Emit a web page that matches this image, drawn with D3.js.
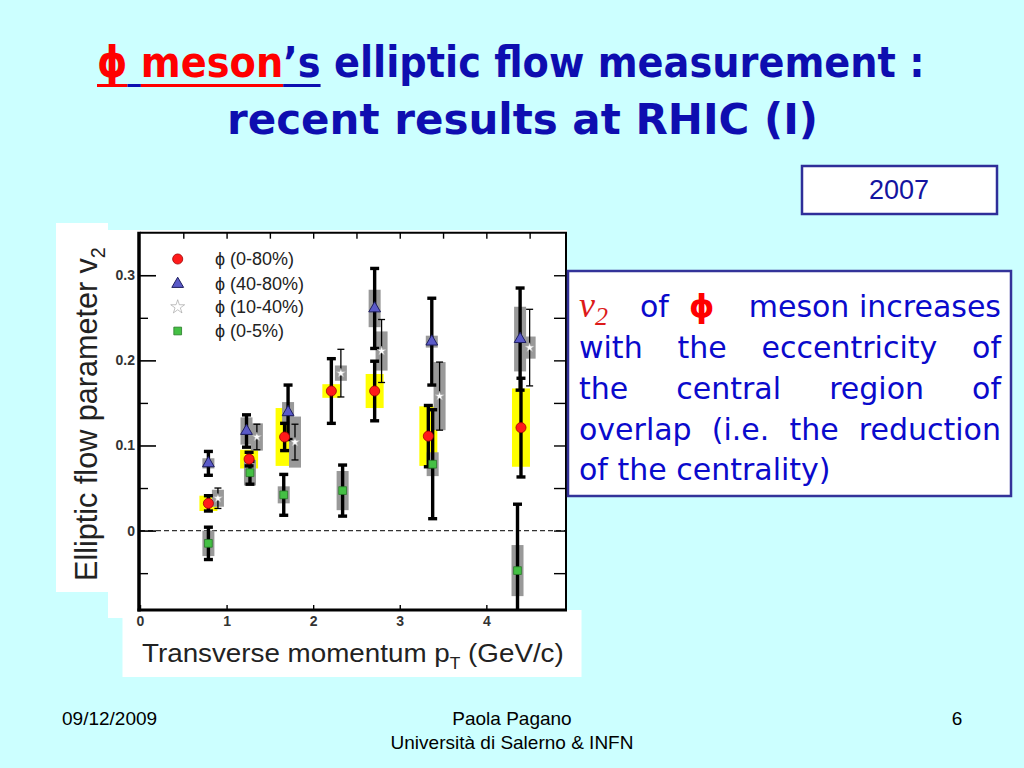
<!DOCTYPE html>
<html><head><meta charset="utf-8">
<script src="https://cdn.jsdelivr.net/npm/d3@7"></script>
<style>html,body{margin:0;padding:0;background:#ccffff;} svg{display:block;}</style>
</head><body>
<svg id="s" width="1024" height="768"></svg>
<script>
// ---------------- DATA ----------------
// phi (0-80%) red circles
const redPt   = [0.79, 1.26, 1.67, 2.21, 2.71, 3.33, 4.40];
const redV2   = [0.032, 0.084, 0.110, 0.164, 0.164, 0.111, 0.121];
const redStat = [0.009, 0.008, 0.016, 0.038, 0.035, 0.036, 0.058];
const redSys  = [0.009, 0.011, 0.034, 0.008, 0.020, 0.035, 0.046];
// phi (40-80%) blue triangles
const triPt   = [0.79, 1.23, 1.71, 2.71, 3.37, 4.39];
const triV2   = [0.079, 0.117, 0.139, 0.261, 0.222, 0.225];
const triStat = [0.014, 0.019, 0.032, 0.047, 0.051, 0.060];
const triSys  = [0.006, 0.016, 0.012, 0.022, 0.007, 0.038];
// phi (10-40%) white stars
const starPt   = [0.90, 1.35, 1.79, 2.32, 2.79, 3.46, 4.50];
const starV2   = [0.038, 0.110, 0.104, 0.185, 0.211, 0.158, 0.215];
const starStat = [0.012, 0.015, 0.021, 0.028, 0.037, 0.040, 0.045];
const starSys  = [0.010, 0.016, 0.030, 0.009, 0.023, 0.040, 0.013];
// phi (0-5%) green squares
const sqPt   = [0.79, 1.27, 1.66, 2.34, 3.38, 4.36];
const sqV2   = [-0.015, 0.068, 0.042, 0.047, 0.078, -0.047];
const sqStat = [0.019, 0.0135, 0.024, 0.030, 0.064, 0.078];
const sqSys  = [0.015, 0.015, 0.010, 0.023, 0.014, 0.030];

const legendLabels = ["ϕ (0-80%)", "ϕ (40-80%)", "ϕ (10-40%)", "ϕ (0-5%)"];
const yMajorTicks = [0, 0.1, 0.2, 0.3];
const yMinorTicks = [-0.05, 0.05, 0.15, 0.25];
const yRightTicks = [-0.05, 0, 0.05, 0.1, 0.15, 0.2, 0.25, 0.3];
const xTicks = [0, 1, 2, 3, 4];
const xTopTicks = [0.5, 1, 1.5, 2, 2.5, 3, 3.5, 4, 4.5];

// ---------------- SETUP ----------------
const W = 1024, H = 768;
const svg = d3.select("#s");
svg.append("rect").attr("width", W).attr("height", H).attr("fill", "#ccffff");

const SANS = "'Liberation Sans', Arial, Helvetica, sans-serif";
const COMIC = "'DejaVu Sans', sans-serif";

// white image panels
svg.append("rect").attr("x", 108).attr("y", 230).attr("width", 459).attr("height", 388).attr("fill", "#fff");
svg.append("rect").attr("x", 56).attr("y", 223).attr("width", 52).attr("height", 369).attr("fill", "#fff");
svg.append("rect").attr("x", 122.5).attr("y", 610).attr("width", 459).attr("height", 67).attr("fill", "#fff");

const x = d3.scaleLinear().domain([0, 4.92]).range([140, 566]);
const y = d3.scaleLinear().domain([-0.0933, 0.35]).range([610, 232.7]);

// clip
svg.append("defs").append("clipPath").attr("id", "clip")
  .append("rect").attr("x", x(0)).attr("y", y(0.35)).attr("width", x(4.92) - x(0)).attr("height", y(-0.0933) - y(0.35));

// zero dashed line
svg.append("line").attr("x1", x(0)).attr("x2", x(4.92)).attr("y1", y(0)).attr("y2", y(0))
  .attr("stroke", "#333").attr("stroke-width", 1.1).attr("stroke-dasharray", "5,3");

// ---------------- SERIES ----------------
const series = [
  {pt: redPt, v: redV2, stat: redStat, sys: redSys, box: "#ffff00", boxW: 18, thick: true, marker: "circle"},
  {pt: triPt, v: triV2, stat: triStat, sys: triSys, box: "#999999", boxW: 12, thick: true, marker: "triangle"},
  {pt: starPt, v: starV2, stat: starStat, sys: starSys, box: "#999999", boxW: 12, thick: false, marker: "star"},
  {pt: sqPt, v: sqV2, stat: sqStat, sys: sqSys, box: "#999999", boxW: 12, thick: true, marker: "square"}
];
series.forEach(s => { s.data = s.pt.map((p, i) => ({p, v: s.v[i], e: s.stat[i], sy: s.sys[i]})); });

const plot = svg.append("g").attr("clip-path", "url(#clip)");

// systematic boxes
series.forEach(s => {
  plot.append("g").selectAll("rect").data(s.data).join("rect")
    .attr("x", d => x(d.p) - s.boxW / 2).attr("width", s.boxW)
    .attr("y", d => y(d.v + d.sy)).attr("height", d => y(d.v - d.sy) - y(d.v + d.sy))
    .attr("fill", s.box);
});

// error bars
series.forEach(s => {
  const sw = s.thick ? 3.4 : 1.3, cw = s.thick ? 9 : 7;
  const g = plot.append("g").attr("stroke", "#000").attr("stroke-width", sw);
  g.selectAll("line.v").data(s.data).join("line").attr("class", "v")
    .attr("x1", d => x(d.p)).attr("x2", d => x(d.p))
    .attr("y1", d => y(d.v + d.e)).attr("y2", d => y(d.v - d.e));
  g.selectAll("line.t").data(s.data).join("line").attr("class", "t")
    .attr("x1", d => x(d.p) - cw / 2).attr("x2", d => x(d.p) + cw / 2)
    .attr("y1", d => y(d.v + d.e)).attr("y2", d => y(d.v + d.e));
  g.selectAll("line.b").data(s.data).join("line").attr("class", "b")
    .attr("x1", d => x(d.p) - cw / 2).attr("x2", d => x(d.p) + cw / 2)
    .attr("y1", d => y(d.v - d.e)).attr("y2", d => y(d.v - d.e));
});

const markerStyle = {
  circle:   {sym: d3.symbolCircle, size: 80, fill: "#ff1a1a", stroke: "#a00000", sw: 0.8},
  triangle: {sym: d3.symbolTriangle, size: 60, fill: "#5a5ac8", stroke: "#1e1e60", sw: 1},
  star:     {sym: d3.symbolStar, size: 26, fill: "#ffffff", stroke: "#b0b0b0", sw: 0.6},
  square:   {sym: d3.symbolSquare, size: 60, fill: "#44c044", stroke: "#2a7a2a", sw: 0.8}
};

series.forEach(s => {
  const m = markerStyle[s.marker];
  plot.append("g").selectAll("path").data(s.data).join("path")
    .attr("transform", d => `translate(${x(d.p)},${y(d.v)})`)
    .attr("d", d3.symbol(m.sym, m.size))
    .attr("fill", m.fill).attr("stroke", m.stroke).attr("stroke-width", m.sw);
});

// ---------------- AXES ----------------
function styleAxis(g, sw) {
  g.select(".domain").remove();
  g.selectAll(".tick line").attr("stroke", "#000").attr("stroke-width", sw);
  g.selectAll(".tick text").attr("font-family", SANS).attr("font-size", 14).attr("font-weight", "bold").attr("fill", "#333");
}
svg.append("g").attr("transform", `translate(${x(0)},0)`)
  .call(d3.axisLeft(y).tickValues(yMajorTicks).tickSize(-16).tickPadding(5).tickFormat(d => d === 0 ? "0" : d.toFixed(1)))
  .call(g => styleAxis(g, 1.6));
svg.append("g").attr("transform", `translate(${x(0)},0)`)
  .call(d3.axisLeft(y).tickValues(yMinorTicks).tickSize(-8).tickFormat(""))
  .call(g => styleAxis(g, 1.4));
svg.append("g").attr("transform", `translate(${x(4.92)},0)`)
  .call(d3.axisRight(y).tickValues(yRightTicks).tickSize(-12).tickFormat(""))
  .call(g => styleAxis(g, 1.4));
svg.append("g").attr("transform", `translate(0,${y(0.35)})`)
  .call(d3.axisTop(x).tickValues(xTopTicks).tickSize(-6).tickFormat(""))
  .call(g => styleAxis(g, 1.4));
svg.append("g").attr("transform", `translate(0,${y(-0.0933)})`)
  .call(d3.axisBottom(x).tickValues(xTicks).tickSize(-5).tickPadding(6).tickFormat(d3.format("d")))
  .call(g => styleAxis(g, 1.4));

// frame
const fr = svg.append("g").attr("stroke", "#000");
fr.append("line").attr("x1", x(0) - 1).attr("x2", x(0) - 1).attr("y1", y(0.35) - 1).attr("y2", y(-0.0933) + 1.5).attr("stroke-width", 3.5);
fr.append("line").attr("x1", x(0) - 2.5).attr("x2", x(4.92) + 1).attr("y1", y(-0.0933)).attr("y2", y(-0.0933)).attr("stroke-width", 3);
fr.append("line").attr("x1", x(0)).attr("x2", x(4.92) + 1).attr("y1", y(0.35)).attr("y2", y(0.35)).attr("stroke-width", 2);
fr.append("line").attr("x1", x(4.92)).attr("x2", x(4.92)).attr("y1", y(0.35)).attr("y2", y(-0.0933)).attr("stroke-width", 2);

// ---------------- LEGEND ----------------
const legMarkers = ["circle", "triangle", "star", "square"];
const legY = [259, 284, 307, 331];
const leg = svg.append("g");
legMarkers.forEach((mk, i) => {
  const m = markerStyle[mk];
  const size = mk === "star" ? 60 : m.size;
  leg.append("path").attr("transform", `translate(177.7,${legY[i]})`)
    .attr("d", d3.symbol(m.sym, size)).attr("fill", m.fill)
    .attr("stroke", mk === "star" ? "#999" : m.stroke).attr("stroke-width", m.sw);
  leg.append("text").attr("x", 215).attr("y", legY[i]).attr("dy", "0.36em")
    .attr("font-family", SANS).attr("font-size", 18).attr("fill", "#222").text(legendLabels[i]);
});

// ---------------- AXIS TITLES ----------------
function fitGroup(parent, build, tx, ty, rot, targetW) {
  const g = parent.append("g");
  const inner = g.append("g");
  const t = build(inner);
  const bb = inner.node().getBBox();
  const s = targetW / bb.width;
  g.attr("transform", `translate(${tx},${ty}) rotate(${rot})`);
  inner.attr("transform", `scale(${s},1) translate(${-bb.x},0)`);
  return {g: inner, s, bb, t};
}

fitGroup(svg, g => {
  const t = g.append("text").attr("font-family", SANS).attr("font-size", 31).attr("fill", "#222");
  t.append("tspan").text("Elliptic flow parameter v");
  t.append("tspan").attr("font-size", 20).attr("dy", 8).text("2");
  return t;
}, 97, 581, -90, 334);

fitGroup(svg, g => {
  const t = g.append("text").attr("font-family", SANS).attr("font-size", 25.5).attr("fill", "#222");
  t.append("tspan").text("Transverse momentum p");
  t.append("tspan").attr("font-size", 16).attr("dy", 7).text("T");
  t.append("tspan").attr("dy", -7).text(" (GeV/c)");
  return t;
}, 142, 662, 0, 422);

// ---------------- TITLE ----------------
const BLUE_T = "#0e0eb0", RED = "#ff0000";
const title1 = fitGroup(svg, g => {
  const t = g.append("text").attr("font-family", COMIC).attr("font-weight", "bold").attr("font-size", 42);
  t.append("tspan").attr("fill", RED).text("ϕ");
  t.append("tspan").attr("fill", BLUE_T).text(" ");
  t.append("tspan").attr("fill", RED).text("meson");
  t.append("tspan").attr("fill", BLUE_T).text("’s");
  t.append("tspan").attr("fill", BLUE_T).text(" elliptic flow measurement :");
  return t;
}, 97, 77, 0, 828);
{
  const node = title1.t.node();
  const segs = [[0, 1, RED], [1, 1, BLUE_T], [2, 5, RED], [7, 2, BLUE_T]];
  segs.forEach(([st, n, c]) => {
    const x0 = node.getStartPositionOfChar(st).x;
    const w = node.getSubStringLength(st, n);
    title1.g.append("rect").attr("x", x0).attr("y", 7).attr("width", w).attr("height", 3).attr("fill", c);
  });
}
fitGroup(svg, g => {
  return g.append("text").attr("font-family", COMIC).attr("font-weight", "bold").attr("font-size", 42)
    .attr("fill", BLUE_T).text("recent results at RHIC (I)");
}, 227, 134, 0, 591);

// ---------------- 2007 BOX ----------------
svg.append("rect").attr("x", 802).attr("y", 166).attr("width", 195).attr("height", 48)
  .attr("fill", "#fff").attr("stroke", "#2e2e99").attr("stroke-width", 2.5);
svg.append("text").attr("x", 899).attr("y", 198.5).attr("text-anchor", "middle")
  .attr("font-family", SANS).attr("font-size", 27).attr("fill", "#1414a0").text("2007");

// ---------------- TEXT BOX ----------------
const BLUE_B = "#0a0acc";
svg.append("rect").attr("x", 568).attr("y", 271).attr("width", 443).attr("height", 225)
  .attr("fill", "#fff").attr("stroke", "#333399").attr("stroke-width", 2.5);
const tb = svg.append("g").attr("font-family", COMIC).attr("font-size", 30).attr("fill", BLUE_B);
const L0 = 579, L1 = 1001;
// line 1
const v2t = tb.append("text").attr("x", L0).attr("y", 317).attr("fill", "#dd1a1a")
  .attr("font-family", "'Liberation Serif', 'Times New Roman', serif").attr("font-style", "italic");
v2t.append("tspan").attr("font-size", 36).text("v");
v2t.append("tspan").attr("font-size", 26).attr("dy", 8).text("2");
tb.append("text").attr("x", 640).attr("y", 317).text("of");
tb.append("text").attr("x", 689).attr("y", 317).attr("fill", "#ff0000").attr("font-weight", "bold").attr("font-size", 32).text("ϕ");
tb.append("text").attr("x", L1).attr("y", 317).attr("text-anchor", "end").text("meson increases");

function justify(words, yb) {
  const nodes = words.map(w => tb.append("text").attr("y", yb).text(w));
  const widths = nodes.map(n => n.node().getComputedTextLength());
  const gap = (L1 - L0 - d3.sum(widths)) / (words.length - 1);
  let cx = L0;
  nodes.forEach((n, i) => { n.attr("x", cx); cx += widths[i] + gap; });
}
justify(["with", "the", "eccentricity", "of"], 358);
justify(["the", "central", "region", "of"], 399);
justify(["overlap", "(i.e.", "the", "reduction"], 440);
tb.append("text").attr("x", L0).attr("y", 480).text("of the centrality)");

// ---------------- FOOTER ----------------
const ft = svg.append("g").attr("font-family", SANS).attr("font-size", 19).attr("fill", "#000");
ft.append("text").attr("x", 62).attr("y", 725).text("09/12/2009");
ft.append("text").attr("x", 512).attr("y", 725).attr("text-anchor", "middle").text("Paola Pagano");
ft.append("text").attr("x", 512).attr("y", 749).attr("text-anchor", "middle").text("Università di Salerno & INFN");
ft.append("text").attr("x", 957).attr("y", 725).attr("text-anchor", "middle").text("6");
</script>
</body></html>
